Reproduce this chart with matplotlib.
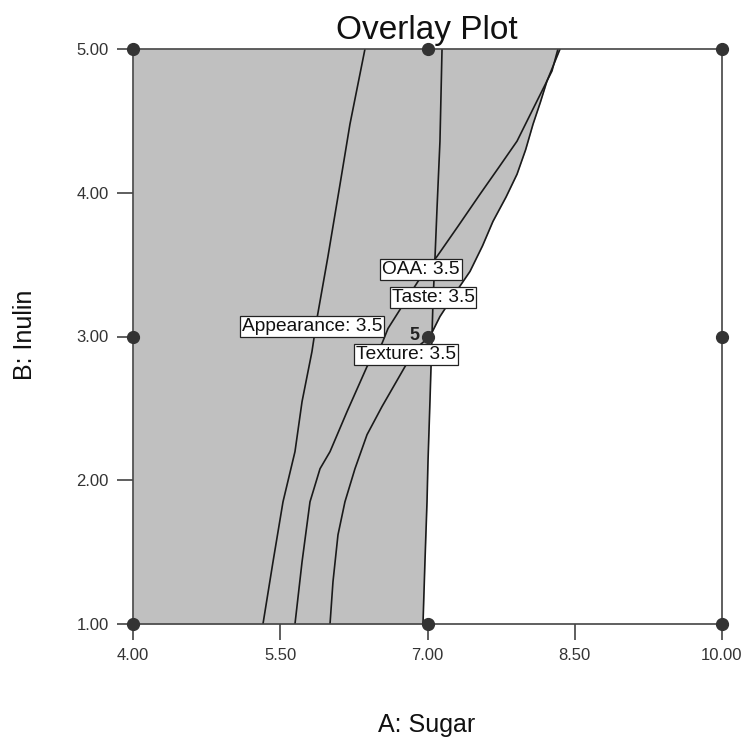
import numpy as np
import matplotlib
matplotlib.use("Agg")
import matplotlib.pyplot as plt

plt.rcParams['font.family'] = ['Liberation Sans', 'DejaVu Sans']

# response contours at the 3.5 level, as (sugar, inulin) points
level = 3.5

appearance_x = [5.324, 5.426, 5.528, 5.650, 5.722, 5.823, 5.874, 5.986, 6.109, 6.210, 6.363]
appearance_y = [1.000, 1.432, 1.850, 2.199, 2.547, 2.895, 3.125, 3.557, 4.059, 4.477, 5.000]

taste_x = [5.650, 5.722, 5.803, 5.905, 6.007, 6.180, 6.384, 6.536, 6.598, 6.740,
           6.903, 7.097, 7.311, 7.535, 7.730, 7.912, 8.115, 8.268, 8.329]
taste_y = [1.000, 1.432, 1.850, 2.080, 2.199, 2.477, 2.791, 2.951, 3.056, 3.209,
           3.383, 3.557, 3.767, 3.990, 4.180, 4.359, 4.638, 4.847, 5.000]

texture_x = [6.007, 6.037, 6.088, 6.159, 6.261, 6.384, 6.536, 6.771, 6.903, 7.025,
             7.127, 7.280, 7.433, 7.560, 7.667, 7.800, 7.912, 8.000, 8.075, 8.150,
             8.217, 8.350]
texture_y = [1.000, 1.293, 1.620, 1.850, 2.080, 2.317, 2.512, 2.791, 2.930, 3.000,
             3.139, 3.300, 3.453, 3.630, 3.801, 3.970, 4.129, 4.300, 4.477, 4.630,
             4.777, 5.000]

oaa_x = [6.954, 6.974, 6.995, 7.005, 7.025, 7.046, 7.056, 7.076, 7.097, 7.127, 7.148]
oaa_y = [1.000, 1.432, 1.850, 2.129, 2.547, 3.014, 3.244, 3.544, 3.892, 4.359, 5.000]

# label anchor positions on each contour
label_names = ["OAA", "Taste", "Appearance", "Texture"]
label_x = [6.934, 7.056, 5.823, 6.781]
label_y = [3.467, 3.272, 3.070, 2.875]

# design points (factorial + center)
design_sugar = [4, 7, 10, 4, 7, 10, 4, 7, 10]
design_inulin = [5, 5, 5, 3, 3, 3, 1, 1, 1]
center_reps = 5

x_ticks = [4.0, 5.5, 7.0, 8.5, 10.0]
y_ticks = [1.0, 2.0, 3.0, 4.0, 5.0]

fig = plt.figure(figsize=(7.43, 7.45), dpi=100)
ax = fig.add_axes([133 / 743, 1 - 624 / 745, (722 - 133) / 743, (624 - 49) / 745])

# shaded area: region left of the OAA / Texture boundary
yy = np.linspace(1, 5, 500)
bound = np.maximum(np.interp(yy, oaa_y, oaa_x), np.interp(yy, texture_y, texture_x))
ax.fill_betweenx(yy, 4, bound, color='#c0c0c0', lw=0)

for xs, ys in [(appearance_x, appearance_y), (taste_x, taste_y),
               (texture_x, texture_y), (oaa_x, oaa_y)]:
    ax.plot(xs, ys, color='#1a1a1a', lw=1.2)

for name, lx, ly in zip(label_names, label_x, label_y):
    ax.text(lx, ly, f"{name}: {level}", ha='center', va='center', fontsize=13.8,
            color='#111111', zorder=5,
            bbox=dict(boxstyle='square,pad=0.1', fc='white', ec='#222222', lw=0.9))

ax.plot(design_sugar, design_inulin, 'o', color='#333333', ms=8.5, clip_on=False, zorder=6)
ax.annotate(str(center_reps), (7, 3), xytext=(-6, 1), textcoords='offset points',
            ha='right', va='center', fontsize=13, fontweight='bold', color='#222222')

ax.set_xlim(4, 10)
ax.set_ylim(1, 5)
ax.set_xticks(x_ticks)
ax.set_yticks(y_ticks)
ax.set_xticklabels([f"{t:.2f}" for t in x_ticks])
ax.set_yticklabels([f"{t:.2f}" for t in y_ticks])
ax.tick_params(direction='out', length=11.5, width=1.1, pad=6, labelsize=12,
               color='#333333', labelcolor='#333333')
for sp in ax.spines.values():
    sp.set_color('#444444')
    sp.set_linewidth(1.2)

fig.text(427 / 743, 1 - 30 / 745, "Overlay Plot", ha='center', va='center',
         fontsize=24, color='#111111')
fig.text(427 / 743, 1 - 725 / 745, "A: Sugar", ha='center', va='center',
         fontsize=18, color='#111111')
fig.text(25 / 743, 1 - 335 / 745, "B: Inulin", ha='center', va='center',
         rotation=90, fontsize=18, color='#111111')

fig.savefig("out.png", dpi=100, facecolor='white')
